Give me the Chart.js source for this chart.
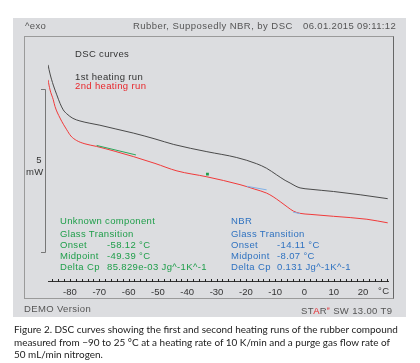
<!DOCTYPE html>
<html>
<head>
<meta charset="utf-8">
<script src="https://cdn.jsdelivr.net/npm/chart.js@4"></script>
<style>
  body { margin: 0; background: #fff; width: 420px; height: 363px; position: relative; overflow: hidden; font-family: "Liberation Sans", Arial, sans-serif; }
  #panel { position: absolute; left: 13px; top: 18px; width: 393px; height: 299px; background: #dcdde0; }
  #frame { position: absolute; left: 24px; top: 36px; width: 370px; height: 263px; border: 1px solid #9a9a9a; border-right-color: #666; box-sizing: border-box; }
  .t { position: absolute; white-space: nowrap; font-size: 9.5px; line-height: 11px; letter-spacing: 0.35px; }
  .hdr { color: #555; }
  .g { color: #1f9e4a; }
  .b { color: #2f72c0; }
  #chart { position: absolute; left: 0; top: 0; }
  .cap { position: absolute; left: 14px; font-family: Lato, "Noto Sans", sans-serif; font-size: 9.95px; color: #222; white-space: nowrap; line-height: 12px; }
</style>
</head>
<body>
<div id="panel"></div>
<div id="frame"></div>
<canvas id="chart" width="420" height="363"></canvas>

<div class="t hdr" style="left:25px; top:20px;">^exo</div>
<div class="t hdr" style="left:133px; top:20px; letter-spacing:0.45px;">Rubber, Supposedly NBR, by DSC</div>
<div class="t hdr" style="left:303px; top:20px;">06.01.2015 09:11:12</div>

<div class="t" style="left:75px; top:48px; color:#333;">DSC curves</div>
<div class="t" style="left:75px; top:71px; color:#333;">1st heating run</div>
<div class="t" style="left:75px; top:80px; color:#e8262b;">2nd heating run</div>

<div class="t" style="left:26px; top:154px; color:#333; width:16px; text-align:right;">5</div>
<div class="t" style="left:26px; top:166px; color:#333;">mW</div>

<div class="t g" style="left:60px; top:215px;">Unknown component</div>
<div class="t g" style="left:60px; top:228px;">Glass Transition</div>
<div class="t g" style="left:60px; top:239px;">Onset</div>
<div class="t g" style="left:107px; top:239px;">-58.12 °C</div>
<div class="t g" style="left:60px; top:250px;">Midpoint</div>
<div class="t g" style="left:107px; top:250px;">-49.39 °C</div>
<div class="t g" style="left:60px; top:261px;">Delta Cp</div>
<div class="t g" style="left:107px; top:261px;">85.829e-03 Jg^-1K^-1</div>

<div class="t b" style="left:231px; top:215px;">NBR</div>
<div class="t b" style="left:231px; top:228px;">Glass Transition</div>
<div class="t b" style="left:231px; top:239px;">Onset</div>
<div class="t b" style="left:277px; top:239px;">-14.11 °C</div>
<div class="t b" style="left:231px; top:250px;">Midpoint</div>
<div class="t b" style="left:277px; top:250px;">-8.07 °C</div>
<div class="t b" style="left:231px; top:261px;">Delta Cp</div>
<div class="t b" style="left:277px; top:261px;">0.131 Jg^-1K^-1</div>

<div class="t" style="left:378px; top:285px; color:#333;">°C</div>

<div class="t hdr" style="left:24px; top:303px;">DEMO Version</div>
<div class="t hdr" style="left:301px; top:303px;">ST<span style="color:#e8262b">A</span>R<sup style="color:#e8262b;font-size:5px;">e</sup> SW 13.00 T9</div>

<div class="cap" style="top:323px;">Figure 2. DSC curves showing the first and second heating runs of the rubber compound</div>
<div class="cap" style="top:336px;">measured from &minus;90 to 25 °C at a heating rate of 10 K/min and a purge gas flow rate of</div>
<div class="cap" style="top:348px;">50 mL/min nitrogen.</div>

<script>
// temperature (°C) and heat flow (mW, arbitrary offset)
const run1Temp = [-87.5, -86.8, -85.7, -84.5, -83.4, -82.3, -81.1, -79.0, -76.6, -73.2, -69.8, -64.6, -58.4, -51.0, -44.6, -33.3, -23.1, -16.3, -12.9, -9.5, -6.6, -4.9, -2.9, -1.5, 1.9, 9.9, 19.0, 28.4];
const run1Flow = [5.74, 5.46, 5.12, 4.82, 4.56, 4.36, 4.24, 4.10, 4.02, 3.95, 3.89, 3.78, 3.65, 3.47, 3.30, 3.08, 2.90, 2.71, 2.57, 2.37, 2.20, 2.12, 2.02, 1.97, 1.93, 1.86, 1.76, 1.64];

const run2Temp = [-87.5, -86.8, -85.7, -85.1, -83.4, -81.1, -79.7, -77.7, -74.9, -70.9, -64.6, -58.4, -51.0, -43.5, -33.3, -22.0, -16.9, -12.9, -10.7, -8.3, -5.9, -3.8, -1.5, 1.9, 9.9, 21.3, 28.4];
const run2Flow = [5.28, 4.97, 4.67, 4.46, 4.11, 3.75, 3.56, 3.42, 3.32, 3.24, 3.09, 2.93, 2.72, 2.49, 2.31, 2.07, 1.93, 1.81, 1.70, 1.55, 1.39, 1.26, 1.19, 1.16, 1.10, 1.01, 0.90];

// evaluation tangents and markers
const greenTangentTemp = [-70.9, -57.5];
const greenTangentFlow = [3.27, 2.98];
const greenMarkTemp = [-33.1];
const greenMarkFlow = [2.39];
const blueTangentTemp = [-19.7, -12.9];
const blueTangentFlow = [2.02, 1.91];
const blueTangent2Temp = [-3.9, -1.5];
const blueTangent2Flow = [1.23, 1.18];

const xLabels = [-80, -70, -60, -50, -40, -30, -20, -10, 0, 10, 20];
const xMin = -87.5, xMax = 28.5;
const scaleBarMw = [0, 5];

const pts = (xs, ys) => xs.map((x, i) => ({ x, y: ys[i] }));

const axisPlugin = {
  id: 'dscAxis',
  afterDraw(chart) {
    const { ctx, chartArea, scales: { x, y } } = chart;
    ctx.save();
    ctx.strokeStyle = '#222';
    ctx.lineWidth = 1;
    // upward minor ticks every 2 °C
    const base = Math.round(chartArea.bottom);
    ctx.beginPath();
    for (let v = -86; v <= 28; v += 2) {
      const px = Math.round(x.getPixelForValue(v)) + 0.5;
      ctx.moveTo(px, base);
      ctx.lineTo(px, base - 3);
    }
    ctx.stroke();
    // 5 mW scale bar
    const y0 = Math.round(y.getPixelForValue(scaleBarMw[0])) + 0.5;
    const y1 = Math.round(y.getPixelForValue(scaleBarMw[1])) + 0.5;
    ctx.strokeStyle = '#777';
    ctx.beginPath();
    ctx.moveTo(45.5, y1); ctx.lineTo(45.5, y0);
    ctx.moveTo(41, y1); ctx.lineTo(45.5, y1);
    ctx.moveTo(41, y0); ctx.lineTo(45.5, y0);
    ctx.stroke();
    ctx.restore();
  }
};

new Chart(document.getElementById('chart'), {
  type: 'line',
  data: {
    datasets: [
      { data: pts(greenTangentTemp, greenTangentFlow), borderColor: '#2aa65a', borderWidth: 1, pointRadius: 0 },
      { data: pts(blueTangentTemp, blueTangentFlow), borderColor: '#7fb0e6', borderWidth: 1, pointRadius: 0 },
      { data: pts(blueTangent2Temp, blueTangent2Flow), borderColor: '#7fb0e6', borderWidth: 1, pointRadius: 0 },
      { data: pts(run1Temp, run1Flow), borderColor: '#4a4a4a', borderWidth: 1, pointRadius: 0, cubicInterpolationMode: 'monotone' },
      { data: pts(run2Temp, run2Flow), borderColor: '#f03a3a', borderWidth: 1, pointRadius: 0, cubicInterpolationMode: 'monotone' },
      { data: pts(greenMarkTemp, greenMarkFlow), showLine: false, pointStyle: 'rect', pointRadius: 2, backgroundColor: '#1f9e4a', borderColor: '#1f9e4a', borderWidth: 0 }
    ]
  },
  options: {
    responsive: false,
    animation: false,
    events: [],
    layout: { padding: { left: 48, right: 32, top: 40, bottom: 60 } },
    plugins: { legend: { display: false }, tooltip: { enabled: false } },
    scales: {
      x: {
        type: 'linear', min: xMin, max: xMax,
        afterBuildTicks: (axis) => { axis.ticks = xLabels.map(v => ({ value: v })); },
        grid: { display: false, drawTicks: false },
        border: { display: true, color: '#333', width: 1 },
        ticks: { color: '#333', padding: 5, font: { family: 'Liberation Sans', size: 9.5 }, maxRotation: 0, autoSkip: false, callback: v => String(v) }
      },
      y: { type: 'linear', display: false, min: -0.9, max: 6.5 }
    }
  },
  plugins: [axisPlugin]
});
</script>
</body>
</html>
